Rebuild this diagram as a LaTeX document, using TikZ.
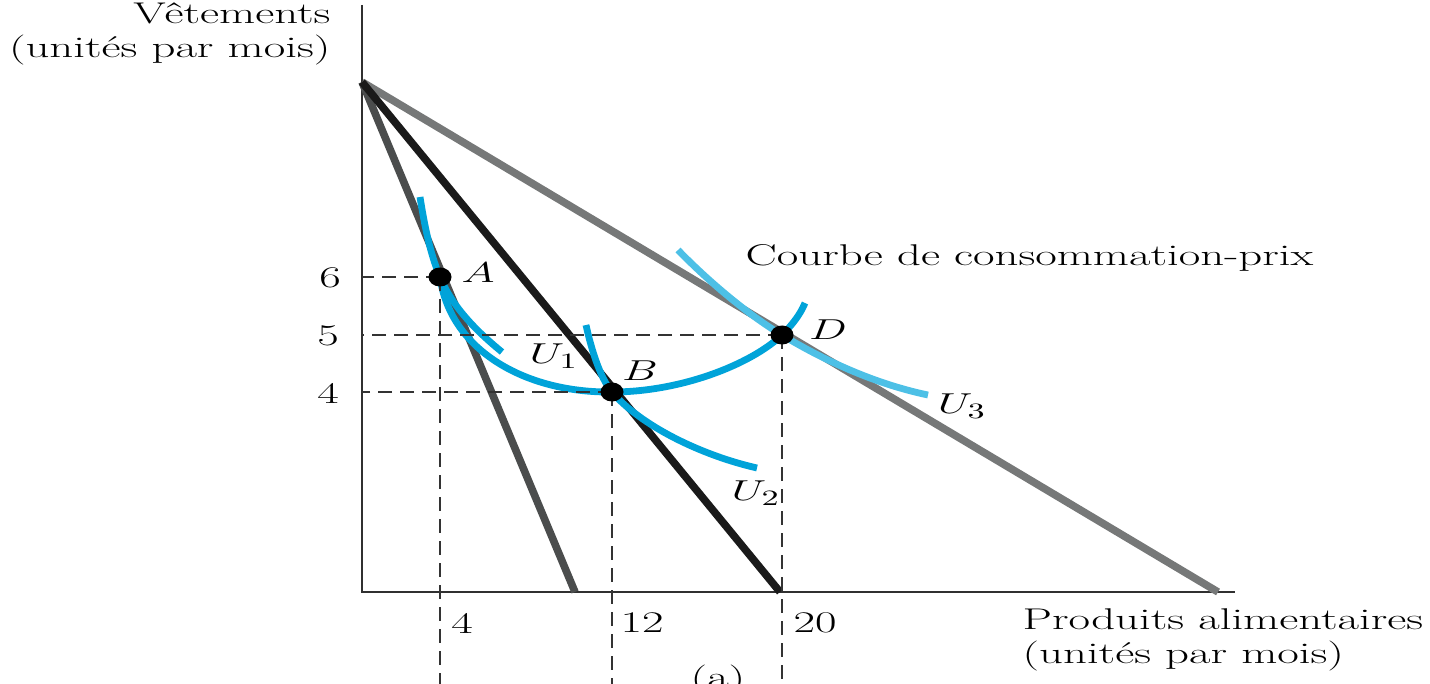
\documentclass[tikz,border=0pt]{standalone}
\usetikzlibrary{shapes.geometric}
\definecolor{ublue}{HTML}{00A3D9}
\definecolor{lblue}{HTML}{4DC0E6}
\definecolor{gsteep}{HTML}{4B4D4D}
\definecolor{gblack}{HTML}{1A1A1A}
\definecolor{glight}{HTML}{767878}
\definecolor{axc}{HTML}{303030}
\begin{document}
\begin{tikzpicture}[x=0.5pt,y=-0.5pt,
  lbl/.style={font=\fontsize{15}{17}\selectfont, xscale=1.56, inner sep=0pt, text=black},
  axis/.style={draw=axc, line width=1pt},
  budget/.style={line width=3.8pt},
  ucurve/.style={draw=ublue, line width=3.4pt},
  guide/.style={draw=black!80, line width=0.8pt, dash pattern=on 7pt off 4pt},
  dot/.style={ellipse, fill=black, minimum width=11.5pt, minimum height=9.5pt, inner sep=0pt}]
\useasboundingbox (0,0) rectangle (1430,684);
% axes
\coordinate (Ytop) at (362,5);
\coordinate (O) at (362,592);
\coordinate (Xend) at (1235,592);
\coordinate (bot) at (362,684);
\draw[axis] (Ytop) -- (O) -- (Xend);
% budget lines
\coordinate (P) at (362,82);
\coordinate (X1) at (575,592);
\coordinate (X2) at (780,592);
\coordinate (X3) at (1218,592);
\draw[budget, draw=gsteep] (P) -- (X1);
\draw[budget, draw=glight] (P) -- (X3);
\draw[budget, draw=gblack] (P) -- (X2);
% points
\coordinate (Ac) at (440,277);
\coordinate (Bc) at (612,392);
\coordinate (Dc) at (782,335);
% U3
\coordinate (u3s) at (678,250);
\coordinate (u3e) at (928,395);
\draw[draw=lblue, line width=3.4pt] (u3s) .. controls (710,283) and (750,316) .. (Dc) .. controls (830,364) and (880,385) .. (u3e);
% U1
\coordinate (u1s) at (420,197);
\coordinate (u1e) at (502,352);
\draw[ucurve] (u1s) .. controls (426,235) and (432,258) .. (Ac) .. controls (452,306) and (475,330) .. (u1e);
% U2
\coordinate (u2s) at (586,325);
\coordinate (u2e) at (757,468);
\draw[ucurve] (u2s) .. controls (591,348) and (600,378) .. (Bc) .. controls (640,425) and (700,455) .. (u2e);
% price-consumption curve
\coordinate (pce) at (805,303);
\draw[ucurve] (Ac) .. controls (450,350) and (525,393) .. (Bc) .. controls (680,392) and (750,365) .. (Dc) .. controls (792,325) and (800,315) .. (pce);
% guides
\draw[guide] (Ac) -- (Ac -| O);
\draw[guide] (Bc) -- (Bc -| O);
\draw[guide] (Dc) -- (Dc -| O);
\draw[guide] (Ac) -- (Ac |- bot);
\draw[guide] (Bc) -- (Bc |- bot);
\draw[guide] (Dc) -- (Dc |- bot);
% dots
\node[dot] (A) at (Ac) {};
\node[dot] (B) at (Bc) {};
\node[dot] (D) at (Dc) {};
% labels
\node[lbl] (lA) at (478,273) {$A$};
\node[lbl] (lB) at (640,371) {$B$};
\node[lbl] (lD) at (828,330) {$D$};
\node[lbl] (lU1) at (554,356) {$U_1$};
\node[lbl] (lU2) at (756,493) {$U_2$};
\node[lbl] (lU3) at (962,406) {$U_3$};
\node[lbl] (t6) at (330,278) {6};
\node[lbl] (t5) at (328,336) {5};
\node[lbl] (t4) at (328,393) {4};
\node[lbl] (x4) at (462,623) {4};
\node[lbl] (x12) at (642,623) {12};
\node[lbl] (x20) at (815,623) {20};
\node[lbl, anchor=east, align=right] (ylab) at (331,34) {Vêtements\\(unités par mois)};
\node[lbl, anchor=west, align=left] (xlab) at (1022,640) {Produits alimentaires\\(unités par mois)};
\node[lbl, anchor=west] (pcc) at (745,258) {Courbe de consommation-prix};
\node[lbl] (cap) at (718,680) {(a)};
\end{tikzpicture}
\end{document}
